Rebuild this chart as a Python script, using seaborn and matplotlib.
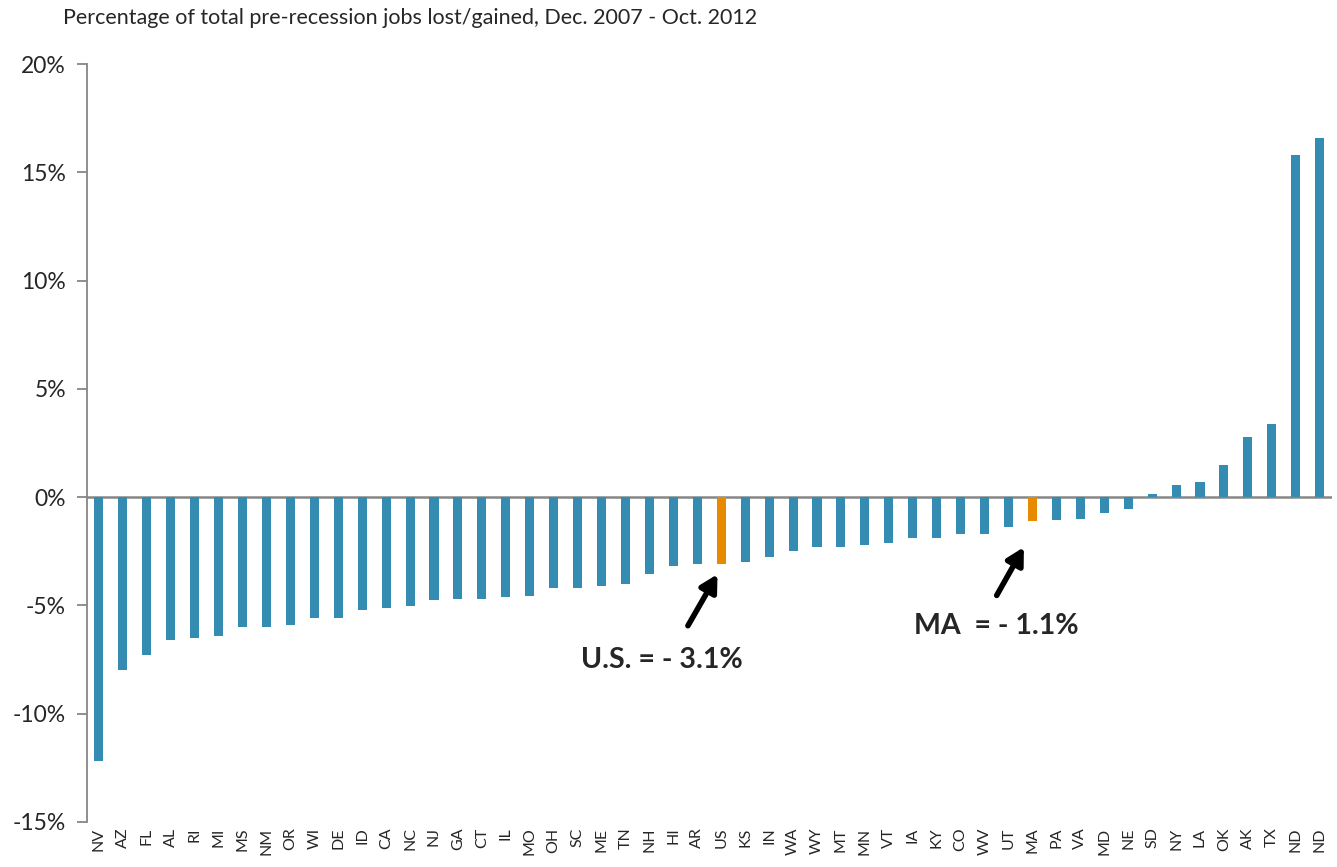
import numpy as np
import pandas as pd
import matplotlib
matplotlib.use("Agg")
import matplotlib.pyplot as plt
import seaborn as sns

# State labels (as printed on the chart) and job change, % of pre-recession jobs
states = ['NV', 'AZ', 'FL', 'AL', 'RI', 'MI', 'MS', 'NM', 'OR', 'WI', 'DE', 'ID', 'CA',
          'NC', 'NJ', 'GA', 'CT', 'IL', 'MO', 'OH', 'SC', 'ME', 'TN', 'NH', 'HI', 'AR',
          'US', 'KS', 'IN', 'WA', 'WY', 'MT', 'MN', 'VT', 'IA', 'KY', 'CO', 'WV', 'UT',
          'MA', 'PA', 'VA', 'MD', 'NE', 'SD', 'NY', 'LA', 'OK', 'AK', 'TX', 'ND', 'ND']
change = [-12.2, -8.0, -7.3, -6.6, -6.5, -6.4, -6.0, -6.0, -5.9, -5.6, -5.6, -5.2, -5.1,
          -5.05, -4.75, -4.7, -4.7, -4.6, -4.55, -4.2, -4.2, -4.1, -4.0, -3.55, -3.2, -3.1,
          -3.1, -3.0, -2.75, -2.5, -2.3, -2.3, -2.2, -2.1, -1.9, -1.9, -1.7, -1.7, -1.4,
          -1.1, -1.05, -1.0, -0.75, -0.55, 0.15, 0.55, 0.7, 1.5, 2.8, 3.4, 15.8, 16.6]
highlight = ['US', 'MA']

BLUE = '#348cb2'
ORANGE = '#e88a00'
GRAY = '#868686'

df = pd.DataFrame({'pos': np.arange(len(states)), 'state': states, 'change': change})
df['grp'] = np.where(df['state'].isin(highlight), 'hl', 'base')

sns.set_style('white')
plt.rcParams['font.family'] = ['Lato', 'DejaVu Sans']

fig, ax = plt.subplots(figsize=(13.37, 8.67), dpi=100)
fig.subplots_adjust(left=0.065, right=0.996, top=0.926, bottom=0.052)

sns.barplot(data=df, x='pos', y='change', hue='grp',
            palette={'base': BLUE, 'hl': ORANGE}, width=0.38, saturation=1,
            dodge=False, legend=False, ax=ax, edgecolor='none')

ax.set_xlim(-0.5, len(states) - 0.5)
ax.set_ylim(-15, 20)
ax.set_yticks(np.arange(-15, 21, 5))
ax.set_yticklabels([f'{v}%' for v in range(-15, 21, 5)], fontsize=16.5)
ax.set_xticks(df['pos'])
ax.set_xticklabels(states, rotation=90, fontsize=11.5)
ax.set_xlabel('')
ax.set_ylabel('')

for s in ['top', 'right', 'bottom']:
    ax.spines[s].set_visible(False)
ax.spines['left'].set_color(GRAY)
ax.spines['left'].set_linewidth(1.3)
ax.axhline(0, color=GRAY, lw=1.8, zorder=0.5)
ax.tick_params(axis='y', direction='out', length=7, width=1.3, color=GRAY, pad=8, left=True)
ax.tick_params(axis='x', length=0, pad=4)

fig.text(0.047, 0.979, 'Percentage of total pre-recession jobs lost/gained, Dec. 2007 - Oct. 2012',
         fontsize=15.5, ha='left', va='center')

arrow = dict(arrowstyle='-|>,head_length=1.0,head_width=0.55', color='black', lw=4)
us_i = states.index('US')
ma_i = states.index('MA')
ax.annotate('', xy=(us_i - 0.1, -3.45), xytext=(us_i - 1.45, -6.05), arrowprops=arrow)
ax.text(us_i - 2.5, -7.5, 'U.S. = - 3.1%', fontsize=20.5, fontweight='bold', ha='center', va='center')
ax.annotate('', xy=(ma_i - 0.3, -2.2), xytext=(ma_i - 1.55, -4.65), arrowprops=arrow)
ax.text(ma_i - 1.5, -5.95, 'MA  = - 1.1%', fontsize=20.5, fontweight='bold', ha='center', va='center')

fig.savefig('out.png', dpi=100)
